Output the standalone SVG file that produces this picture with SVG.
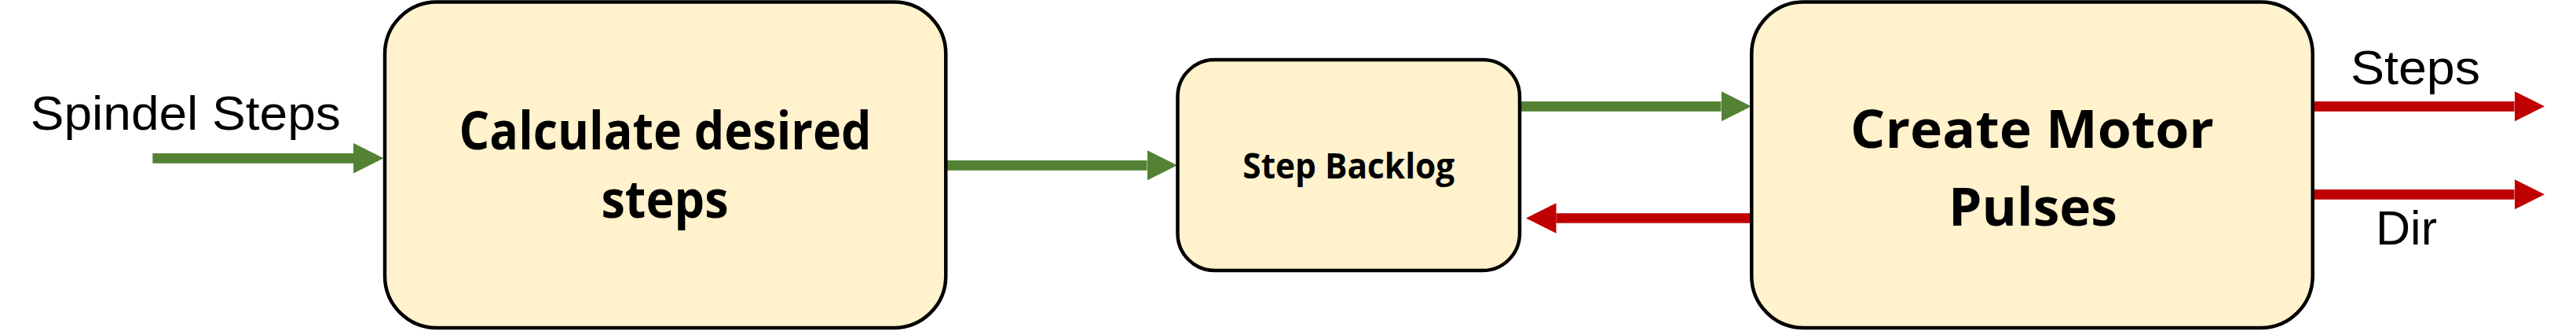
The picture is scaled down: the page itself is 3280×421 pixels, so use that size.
<svg xmlns="http://www.w3.org/2000/svg" width="3280" height="421" viewBox="0 0 3280 421">
  <style>
    .box { fill: #FFF2CC; stroke: #000000; stroke-width: 4.5; }
    .title { font-family: "Open Sans", "Noto Sans", "DejaVu Sans", sans-serif; font-weight: 700; fill: #000000; text-anchor: middle; }
    .label { font-family: "Liberation Sans", Arial, sans-serif; font-size: 62px; fill: #000000; }
    .green { stroke: #548235; stroke-width: 12.7; fill: none; }
    .red { stroke: #C00000; stroke-width: 12.7; fill: none; }
  </style>
  <defs>
    <marker id="headGreen" markerUnits="userSpaceOnUse" markerWidth="39" markerHeight="39" refX="0" refY="19.3" orient="auto" viewBox="0 0 39 38.6">
      <path d="M0,0 L38.5,19.3 L0,38.6 Z" fill="#548235"/>
    </marker>
    <marker id="headRed" markerUnits="userSpaceOnUse" markerWidth="39" markerHeight="39" refX="0" refY="19.3" orient="auto" viewBox="0 0 39 38.6">
      <path d="M0,0 L38.5,19.3 L0,38.6 Z" fill="#C00000"/>
    </marker>
  </defs>
  <rect width="3280" height="421" fill="#FFFFFF"/>

  <g id="connectors">
    <line id="c-spindel" class="green" x1="194.3" y1="201.3" x2="450" y2="201.3" marker-end="url(#headGreen)"/>
    <line id="c-calc-backlog" class="green" x1="1204.3" y1="210.3" x2="1460.5" y2="210.3" marker-end="url(#headGreen)"/>
    <line id="c-backlog-create" class="green" x1="1935" y1="135.3" x2="2191.5" y2="135.3" marker-end="url(#headGreen)"/>
    <line id="c-create-backlog" class="red" x1="2230" y1="277.5" x2="1981.5" y2="277.5" marker-end="url(#headRed)"/>
    <line id="c-steps" class="red" x1="2945" y1="135.3" x2="3201.5" y2="135.3" marker-end="url(#headRed)"/>
    <line id="c-dir" class="red" x1="2945" y1="247.3" x2="3201.5" y2="247.3" marker-end="url(#headRed)"/>
  </g>

  <g id="node-calc">
    <rect class="box" x="490" y="2.5" width="714.3" height="414.5" rx="66" ry="66"/>
    <text class="title" x="847" y="190" font-size="66" textLength="525" lengthAdjust="spacingAndGlyphs">Calculate desired</text>
    <text class="title" x="846.5" y="277" font-size="66" textLength="162" lengthAdjust="spacingAndGlyphs">steps</text>
  </g>

  <g id="node-backlog">
    <rect class="box" x="1499.5" y="76" width="435.5" height="268" rx="47" ry="47"/>
    <text class="title" x="1717.3" y="227" font-size="45" textLength="270" lengthAdjust="spacingAndGlyphs">Step Backlog</text>
  </g>

  <g id="node-create">
    <rect class="box" x="2230.3" y="2.5" width="714.4" height="414.5" rx="66" ry="66"/>
    <text class="title" x="2587.5" y="188" font-size="66" textLength="463" lengthAdjust="spacingAndGlyphs">Create Motor</text>
    <text class="title" x="2588.5" y="287" font-size="66" textLength="215" lengthAdjust="spacingAndGlyphs">Pulses</text>
  </g>

  <g id="labels">
    <text class="label" x="38.8" y="165" textLength="395" lengthAdjust="spacingAndGlyphs">Spindel Steps</text>
    <text class="label" x="2993" y="106.5" textLength="165" lengthAdjust="spacingAndGlyphs">Steps</text>
    <text class="label" x="3025" y="310.5" textLength="78" lengthAdjust="spacingAndGlyphs">Dir</text>
  </g>
</svg>
